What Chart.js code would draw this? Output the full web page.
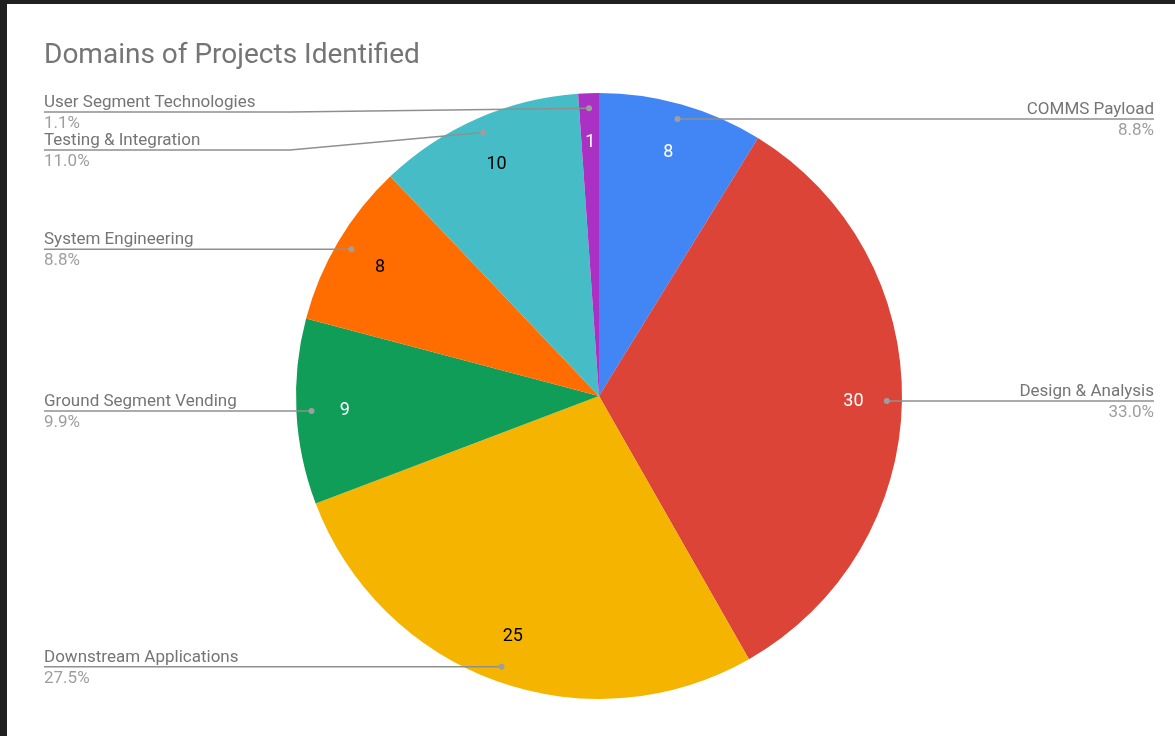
<!DOCTYPE html>
<html>
<head>
<meta charset="utf-8">
<script src="https://cdn.jsdelivr.net/npm/chart.js@4"></script>
<style>
    html, body { margin: 0; padding: 0; background: #202020; overflow: hidden; }
    #wrap { position: absolute; left: 7px; top: 4px; width: 1168px; height: 732px; background: #ffffff; }
</style>
</head>
<body>
<div id="wrap"><canvas id="pieChart"></canvas></div>
<script>
const chartTitle = "Domains of Projects Identified";
const categories = ["COMMS Payload", "Design & Analysis", "Downstream Applications", "Ground Segment Vending",
    "System Engineering", "Testing & Integration", "User Segment Technologies"];
const projectCounts = [8, 30, 25, 9, 8, 10, 1];
const sliceColors = ["#4285f4", "#db4437", "#f4b400", "#0f9d58", "#ff6d00", "#46bdc6", "#ab30c4"];
const valueTextColors = ["#ffffff", "#ffffff", "#000000", "#ffffff", "#000000", "#000000", "#ffffff"];

const FONT = "Roboto, 'Noto Sans', sans-serif";

// labels, leader lines and title drawn on top of the pie
const calloutPlugin = {
    id: "callouts",
    afterDatasetsDraw(chart) {
        const ctx = chart.ctx;
        const meta = chart.getDatasetMeta(0);
        const data = chart.data.datasets[0].data;
        const total = data.reduce((a, b) => a + b, 0);
        const W = chart.width;

        ctx.save();
        ctx.font = "28px " + FONT;
        ctx.fillStyle = "#757575";
        ctx.textAlign = "left";
        ctx.textBaseline = "alphabetic";
        ctx.fillText(chartTitle, 37, 59);

        const left = [], right = [];
        meta.data.forEach((arc, i) => {
            const mid = (arc.startAngle + arc.endAngle) / 2;
            const R = arc.outerRadius;
            // value inside slice
            ctx.font = "18px " + FONT;
            ctx.fillStyle = valueTextColors[i];
            ctx.textAlign = "center";
            ctx.textBaseline = "middle";
            ctx.fillText(String(data[i]), arc.x + Math.cos(mid) * R * 0.84, arc.y + Math.sin(mid) * R * 0.84 + 1);

            const dot = { x: arc.x + Math.cos(mid) * R * 0.95, y: arc.y + Math.sin(mid) * R * 0.95 };
            const item = { i, dot, y: dot.y, pct: (data[i] / total * 100).toFixed(1) + "%" };
            if (Math.cos(mid) >= 0) right.push(item); else left.push(item);
        });

        const spread = (list) => {
            list.sort((a, b) => a.y - b.y);
            let prev = -Infinity;
            list.forEach(it => {
                it.y = Math.max(it.dot.y, prev + 38, 108);
                prev = it.y;
            });
        };
        spread(left);
        spread(right);

        const drawItem = (it, side) => {
            const x0 = side === "left" ? 37 : W - 21;
            const knee = side === "left" ? 283 : W - 260;
            ctx.strokeStyle = "#8f8f8f";
            ctx.lineWidth = 1.5;
            ctx.beginPath();
            ctx.moveTo(x0, it.y);
            if (Math.abs(it.y - it.dot.y) > 0.5) ctx.lineTo(knee, it.y);
            ctx.lineTo(it.dot.x, it.dot.y);
            ctx.stroke();
            ctx.fillStyle = "#9e9e9e";
            ctx.beginPath();
            ctx.arc(it.dot.x, it.dot.y, 3, 0, Math.PI * 2);
            ctx.fill();

            ctx.textAlign = side === "left" ? "left" : "right";
            ctx.textBaseline = "alphabetic";
            ctx.font = "17px " + FONT;
            ctx.fillStyle = "#757575";
            ctx.fillText(categories[it.i], x0, it.y - 5);
            ctx.fillStyle = "#9e9e9e";
            ctx.fillText(it.pct, x0, it.y + 16);
        };
        left.forEach(it => drawItem(it, "left"));
        right.forEach(it => drawItem(it, "right"));
        ctx.restore();
    }
};

new Chart(document.getElementById("pieChart").getContext("2d"), {
    type: "pie",
    data: {
        labels: categories,
        datasets: [{
            data: projectCounts,
            backgroundColor: sliceColors,
            borderWidth: 0
        }]
    },
    options: {
        responsive: true,
        maintainAspectRatio: false,
        animation: false,
        layout: { padding: { top: 89, bottom: 37, left: 16, right: 0 } },
        plugins: {
            legend: { display: false },
            title: { display: false },
            tooltip: { enabled: false }
        }
    },
    plugins: [calloutPlugin]
});
</script>
</body>
</html>
